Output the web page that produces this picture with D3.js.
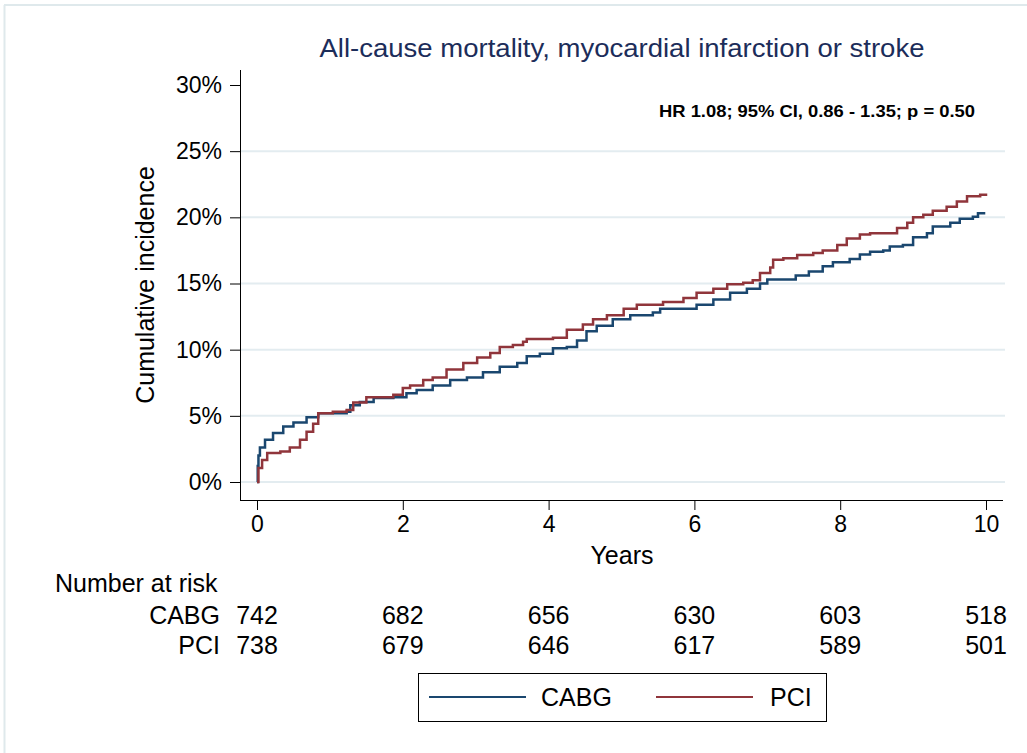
<!DOCTYPE html>
<html>
<head>
<meta charset="utf-8">
<script src="https://cdn.jsdelivr.net/npm/d3@7"></script>
<style>
	body { margin: 0; background: #fff; }
	text { font-family: "Liberation Sans", Arial, Helvetica, sans-serif; }
</style>
</head>
<body>
<div id="km_plot"></div>
<script>
// follow-up times (years) and cumulative incidence (%)
const cabgTime = [0, 0.01, 0.02, 0.04, 0.11, 0.22, 0.36, 0.5, 0.68, 0.84, 1.23, 1.28, 1.41, 1.6, 1.87, 2.05, 2.19, 2.41, 2.65, 2.88, 3.1, 3.33, 3.57, 3.7, 3.88, 4.06, 4.25, 4.39, 4.52, 4.66, 4.88, 5.12, 5.43, 5.53, 6.03, 6.26, 6.49, 6.72, 6.9, 7.0, 7.39, 7.57, 7.76, 7.9, 8.13, 8.27, 8.41, 8.59, 8.68, 8.86, 9.0, 9.19, 9.27, 9.51, 9.64, 9.82, 9.89, 9.99];
const cabgValue = [0, 1.2, 2.0, 2.6, 3.2, 3.7, 4.2, 4.5, 4.9, 5.2, 5.3, 5.8, 6.05, 6.35, 6.4, 6.7, 6.95, 7.3, 7.7, 7.9, 8.3, 8.7, 9.0, 9.5, 9.7, 10.1, 10.2, 10.7, 11.4, 11.8, 12.3, 12.6, 12.8, 13.1, 13.4, 13.8, 14.3, 14.6, 15.0, 15.3, 15.6, 15.9, 16.3, 16.6, 16.85, 17.2, 17.4, 17.5, 17.8, 17.9, 18.5, 18.8, 19.3, 19.6, 19.9, 20.05, 20.3, 20.3];

const pciTime = [0, 0.02, 0.07, 0.14, 0.32, 0.45, 0.59, 0.68, 0.77, 0.84, 1.04, 1.23, 1.32, 1.5, 1.87, 2.0, 2.1, 2.28, 2.41, 2.6, 2.83, 3.02, 3.2, 3.33, 3.51, 3.65, 3.7, 4.06, 4.25, 4.47, 4.61, 4.8, 5.03, 5.21, 5.57, 5.85, 6.03, 6.26, 6.45, 6.67, 6.8, 6.9, 7.04, 7.08, 7.22, 7.41, 7.63, 7.76, 7.96, 8.09, 8.27, 8.41, 8.78, 8.92, 9.0, 9.14, 9.27, 9.46, 9.6, 9.74, 9.92, 10.0];
const pciValue = [0, 1.06, 1.66, 2.2, 2.3, 2.6, 3.2, 3.8, 4.4, 5.2, 5.3, 5.45, 6.0, 6.4, 6.6, 7.1, 7.3, 7.7, 7.9, 8.5, 9.0, 9.4, 9.75, 10.2, 10.35, 10.6, 10.8, 10.9, 11.5, 11.9, 12.3, 12.6, 13.1, 13.4, 13.6, 13.9, 14.3, 14.6, 14.95, 15.05, 15.25, 15.8, 16.2, 16.8, 16.9, 17.15, 17.3, 17.5, 17.9, 18.4, 18.7, 18.8, 19.2, 19.6, 20.0, 20.2, 20.5, 20.8, 21.2, 21.6, 21.7, 21.8];

const yTicks = [0, 5, 10, 15, 20, 25, 30];
const xTicks = [0, 2, 4, 6, 8, 10];
const riskGroups = ["CABG", "PCI"];
const riskCabg = [742, 682, 656, 630, 603, 518];
const riskPci = [738, 679, 646, 617, 589, 501];

const WIDTH = 1027, HEIGHT = 753;
const COLORS = { CABG: "#1a476f", PCI: "#90353b" };
const TICK_FONT = 23;
const LABEL_FONT = 25;

const svg = d3.select("#km_plot")
	.append("svg")
	.attr("width", WIDTH)
	.attr("height", HEIGHT);

// faint outer frame (left and top edges only)
svg.append("line").attr("x1", 4.5).attr("x2", 4.5).attr("y1", 5).attr("y2", HEIGHT)
	.attr("stroke", "#dfe9ec").attr("stroke-width", 2);
svg.append("line").attr("x1", 4).attr("x2", WIDTH).attr("y1", 5).attr("y2", 5)
	.attr("stroke", "#dfe9ec").attr("stroke-width", 2);

const x = d3.scaleLinear().domain([0, 10]).range([257, 986]);
const y = d3.scaleLinear().domain([0, 30]).range([482, 85]);

// gridlines
svg.append("g")
	.selectAll("line")
	.data(yTicks.filter(d => d < 30))
	.enter()
	.append("line")
	.attr("x1", 241)
	.attr("x2", 1005)
	.attr("y1", d => y(d))
	.attr("y2", d => y(d))
	.attr("stroke", "#e3ecf0")
	.attr("stroke-width", 2);

// Y axis
const yAxis = svg.append("g")
	.attr("transform", "translate(240,0)")
	.call(d3.axisLeft(y).tickValues(yTicks).tickSize(10).tickPadding(8).tickFormat(d => d + "%"));
yAxis.select(".domain").attr("d", "M0.5,70V500");
yAxis.selectAll("text").style("font-size", TICK_FONT + "px").attr("fill", "#000");

svg.append("text")
	.attr("transform", `translate(154,${(165 + 405) / 2}) rotate(-90)`)
	.attr("text-anchor", "middle")
	.style("font-size", LABEL_FONT + "px")
	.text("Cumulative incidence");

// X axis
const xAxis = svg.append("g")
	.attr("transform", "translate(0,500)")
	.call(d3.axisBottom(x).tickValues(xTicks).tickSize(10).tickPadding(6));
xAxis.select(".domain").attr("d", "M240,0.5H1003");
xAxis.selectAll("text").style("font-size", TICK_FONT + "px").attr("fill", "#000");

svg.append("text")
	.attr("x", 622)
	.attr("y", 564)
	.attr("text-anchor", "middle")
	.style("font-size", LABEL_FONT + "px")
	.text("Years");

// title and hazard ratio note
svg.append("text")
	.attr("x", 622)
	.attr("y", 57)
	.attr("text-anchor", "middle")
	.attr("fill", "#1c2d5a")
	.attr("textLength", 605)
	.attr("lengthAdjust", "spacingAndGlyphs")
	.style("font-size", "25px")
	.text("All-cause mortality, myocardial infarction or stroke");

svg.append("text")
	.attr("x", 975)
	.attr("y", 117)
	.attr("text-anchor", "end")
	.attr("textLength", 316)
	.attr("lengthAdjust", "spacingAndGlyphs")
	.style("font-size", "16.5px")
	.style("font-weight", 700)
	.text("HR 1.08; 95% CI, 0.86 - 1.35; p = 0.50");

// step curves
const stepLine = d3.line()
	.x(d => x(d[0]))
	.y(d => y(d[1]))
	.curve(d3.curveStepAfter);

const series = [
	{ name: "CABG", pts: d3.zip(cabgTime, cabgValue) },
	{ name: "PCI", pts: d3.zip(pciTime, pciValue) }
];

svg.append("g")
	.selectAll("path")
	.data(series)
	.enter()
	.append("path")
	.attr("d", d => stepLine(d.pts))
	.attr("fill", "none")
	.attr("stroke", d => COLORS[d.name])
	.attr("stroke-width", 2.5);

// number at risk table
svg.append("text")
	.attr("x", 55)
	.attr("y", 592)
	.style("font-size", LABEL_FONT + "px")
	.text("Number at risk");

const riskRows = [riskCabg, riskPci];
riskGroups.forEach((g, i) => {
	const rowY = 624 + i * 30;
	svg.append("text")
		.attr("x", 220)
		.attr("y", rowY)
		.attr("text-anchor", "end")
		.style("font-size", LABEL_FONT + "px")
		.text(g);
	svg.append("g")
		.selectAll("text")
		.data(riskRows[i])
		.enter()
		.append("text")
		.attr("x", (d, j) => x(xTicks[j]))
		.attr("y", rowY)
		.attr("text-anchor", "middle")
		.style("font-size", LABEL_FONT + "px")
		.text(d => d);
});

// legend
const legend = svg.append("g");
legend.append("rect")
	.attr("x", 418.5)
	.attr("y", 673.5)
	.attr("width", 408)
	.attr("height", 48)
	.attr("fill", "#fff")
	.attr("stroke", "#000")
	.attr("stroke-width", 1);

const legendItems = [
	{ name: "CABG", x1: 429, x2: 526, tx: 541 },
	{ name: "PCI", x1: 656, x2: 753, tx: 770 }
];
legendItems.forEach(it => {
	legend.append("line")
		.attr("x1", it.x1).attr("x2", it.x2)
		.attr("y1", 697).attr("y2", 697)
		.attr("stroke", COLORS[it.name])
		.attr("stroke-width", 2);
	legend.append("text")
		.attr("x", it.tx)
		.attr("y", 706)
		.style("font-size", LABEL_FONT + "px")
		.text(it.name);
});
</script>
</body>
</html>
